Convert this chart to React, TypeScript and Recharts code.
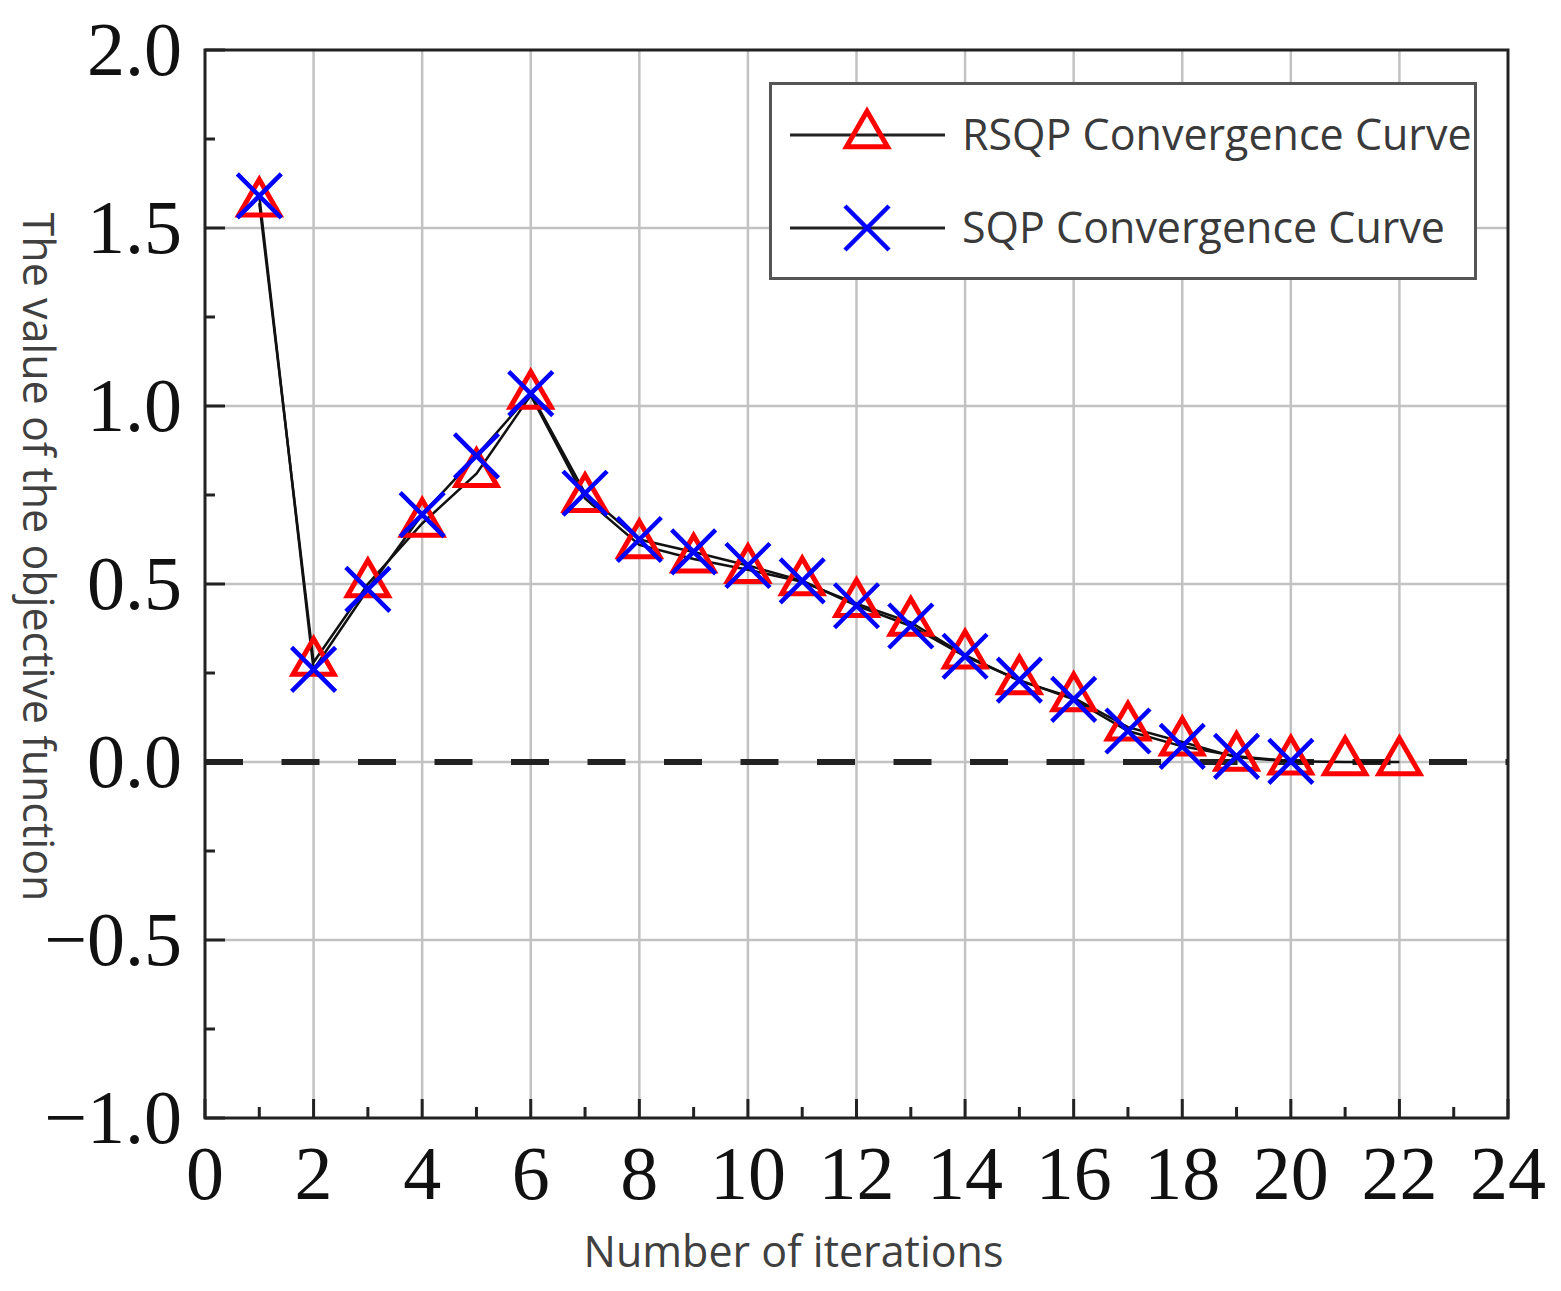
import React from 'react';
import {
  ComposedChart,
  Line,
  XAxis,
  YAxis,
  CartesianGrid,
  ReferenceLine,
  ReferenceArea,
  Legend,
} from 'recharts';

// values
const iterations = [1, 2, 3, 4, 5, 6, 7, 8, 9, 10, 11, 12, 13, 14, 15, 16, 17, 18, 19, 20, 21, 22];
const rsqpValues = [1.57, 0.28, 0.5, 0.67, 0.81, 1.03, 0.74, 0.61, 0.57, 0.54, 0.506, 0.445, 0.392, 0.3, 0.228, 0.18, 0.098, 0.056, 0.013, 0.002, 0.0, 0.0];
const sqpValues = [1.59, 0.26, 0.485, 0.695, 0.86, 1.035, 0.755, 0.625, 0.59, 0.552, 0.509, 0.439, 0.382, 0.297, 0.23, 0.176, 0.087, 0.044, 0.016, 0.002];

const xTicks = [0, 1, 2, 3, 4, 5, 6, 7, 8, 9, 10, 11, 12, 13, 14, 15, 16, 17, 18, 19, 20, 21, 22, 23, 24];
const yTicks = [-1, -0.75, -0.5, -0.25, 0, 0.25, 0.5, 0.75, 1, 1.25, 1.5, 1.75, 2];
const gridX = [2, 4, 6, 8, 10, 12, 14, 16, 18, 20, 22];
const gridY = [-0.5, 0, 0.5, 1, 1.5];

const rows = iterations.map((x, i) => ({
  x,
  rsqp: rsqpValues[i],
  sqp: i < sqpValues.length ? sqpValues[i] : null,
}));

const SERIF = '"Liberation Serif", "Times New Roman", serif';
const SANS = '"Open Sans", sans-serif';
const RED = '#ff0000';
const BLUE = '#0000ff';

const trianglePath = (cx: number, cy: number) => {
  const s = 41;
  const up = s / Math.sqrt(3);
  const down = s / (2 * Math.sqrt(3));
  return `M${cx},${cy - up}L${cx + s / 2},${cy + down}L${cx - s / 2},${cy + down}Z`;
};

const Triangle = ({ cx, cy }: { cx: number; cy: number }) => (
  <path d={trianglePath(cx, cy)} fill="none" stroke={RED} strokeWidth={5} strokeLinejoin="miter" />
);

const Cross = ({ cx, cy }: { cx: number; cy: number }) => {
  const r = 22;
  return (
    <path
      d={`M${cx - r},${cy - r}L${cx + r},${cy + r}M${cx - r},${cy + r}L${cx + r},${cy - r}`}
      stroke={BLUE}
      strokeWidth={4.5}
      fill="none"
    />
  );
};

const triangleDot = (props: any) => {
  if (props.cy == null || props.value == null) return <g key={`t-${props.index}`} />;
  return <Triangle key={`t-${props.index}`} cx={props.cx} cy={props.cy} />;
};

const crossDot = (props: any) => {
  if (props.cy == null || props.value == null) return <g key={`c-${props.index}`} />;
  return <Cross key={`c-${props.index}`} cx={props.cx} cy={props.cy} />;
};

const XTick = ({ x, y, payload }: any) => {
  const v = payload.value;
  const major = v % 2 === 0;
  return (
    <g>
      <line x1={x} x2={x} y1={y} y2={y - (major ? 19 : 11)} stroke="#222" strokeWidth={3} />
      {major && (
        <text x={x} y={y + 81} textAnchor="middle" fontFamily={SERIF} fontSize={76} fill="#111">
          {v}
        </text>
      )}
    </g>
  );
};

const YTick = ({ x, y, payload }: any) => {
  const v = payload.value;
  const major = Math.abs(v * 2 - Math.round(v * 2)) < 1e-6;
  const label = v < 0 ? `\u2212${Math.abs(v).toFixed(1)}` : v.toFixed(1);
  return (
    <g>
      <line x1={x} x2={x + (major ? 20 : 10)} y1={y} y2={y} stroke="#222" strokeWidth={3} />
      {major && (
        <text x={x - 23} y={y + 25} textAnchor="end" fontFamily={SERIF} fontSize={76} fill="#111">
          {label}
        </text>
      )}
    </g>
  );
};

const yLabel = ({ viewBox }: any) => {
  const cx = viewBox.x + 23;
  const cy = viewBox.y + viewBox.height / 2 - 27;
  return (
    <text
      x={cx}
      y={cy}
      transform={`rotate(90, ${cx}, ${cy})`}
      textAnchor="middle"
      fontFamily={SANS}
      fontSize={43}
      fill="#404040"
    >
      The value of the objective function
    </text>
  );
};

const xLabel = ({ viewBox }: any) => (
  <text
    x={viewBox.x + viewBox.width / 2 - 63}
    y={viewBox.y + 149}
    textAnchor="middle"
    fontFamily={SANS}
    fontSize={43}
    fill="#404040"
  >
    Number of iterations
  </text>
);

const LegendBox = ({ payload }: any) => (
  <div
    style={{
      width: 708,
      height: 198,
      border: '3px solid #555',
      boxSizing: 'border-box',
      background: '#fff',
    }}
  >
    <svg width={702} height={192} style={{ display: 'block' }}>
      {(payload || []).map((entry: any, i: number) => {
        const cy = 50 + i * 93;
        return (
          <g key={`legend-${entry.dataKey}`}>
            <line x1={18} x2={173} y1={cy} y2={cy} stroke="#222" strokeWidth={3} />
            {entry.dataKey === 'rsqp' ? <Triangle cx={95} cy={cy} /> : <Cross cx={95} cy={cy} />}
            <text x={190} y={cy + 15} fontFamily={SANS} fontSize={43} fill="#3a3a3a">
              {entry.value}
            </text>
          </g>
        );
      })}
    </svg>
  </div>
);

export default function App() {
  return (
    <div style={{ position: 'absolute', left: 0, top: 0, width: 1561, height: 1291, background: '#fff' }}>
      <ComposedChart width={1561} height={1291} data={rows} margin={{ top: 50, right: 53, bottom: 0, left: 0 }}>
        <CartesianGrid stroke="#c2c2c2" strokeWidth={2.5} horizontalValues={gridY} verticalValues={gridX} />
        <XAxis
          type="number"
          dataKey="x"
          domain={[0, 24]}
          ticks={xTicks}
          interval={0}
          tickSize={0}
          tickMargin={0}
          tickLine={false}
          axisLine={false}
          tick={<XTick />}
          height={173}
          label={xLabel}
        />
        <YAxis
          type="number"
          domain={[-1, 2]}
          ticks={yTicks}
          interval={0}
          tickSize={0}
          tickMargin={0}
          tickLine={false}
          axisLine={false}
          tick={<YTick />}
          width={205}
          label={yLabel}
        />
        <ReferenceLine y={0} stroke="#222" strokeWidth={6} strokeDasharray="38 38.5" />
        <Line
          type="linear"
          dataKey="rsqp"
          name="RSQP Convergence Curve"
          stroke="#111"
          strokeWidth={2.5}
          dot={triangleDot}
          activeDot={false}
          isAnimationActive={false}
        />
        <Line
          type="linear"
          dataKey="sqp"
          name="SQP Convergence Curve"
          stroke="#111"
          strokeWidth={2.5}
          dot={crossDot}
          activeDot={false}
          isAnimationActive={false}
        />
        <ReferenceArea x1={0} x2={24} y1={-1} y2={2} fill="none" stroke="#222" strokeWidth={3} />
        <Legend
          layout="vertical"
          align="center"
          verticalAlign="middle"
          content={<LegendBox />}
          wrapperStyle={{ left: 769, top: 82, width: 708, height: 198 }}
        />
      </ComposedChart>
    </div>
  );
}
